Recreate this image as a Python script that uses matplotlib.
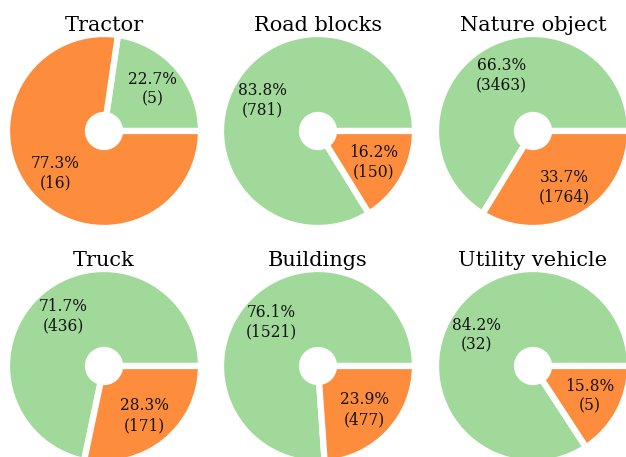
import matplotlib
matplotlib.use("Agg")
import matplotlib.pyplot as plt

titles = ["Tractor", "Road blocks", "Nature object", "Truck", "Buildings", "Utility vehicle"]
pct_green = [22.7, 83.8, 66.3, 71.7, 76.1, 84.2]
pct_orange = [77.3, 16.2, 33.7, 28.3, 23.9, 15.8]
cnt_green = [5, 781, 3463, 436, 1521, 32]
cnt_orange = [16, 150, 1764, 171, 477, 5]

colors = ["#a1d99b", "#fd8d3c"]

W, H = 626, 457
fig = plt.figure(figsize=(W / 100, H / 100), dpi=100)

R = 97          # pie radius in pixels (white edge eats a bit)
lim = 1.12
centers = [(104, 131), (318, 131), (533, 131), (104, 366), (318, 366), (533, 366)]

for i, (cx, cy) in enumerate(centers):
    size = 2 * lim * R
    ax = fig.add_axes([(cx - size / 2) / W, 1 - (cy + size / 2) / H, size / W, size / H])
    vals = [pct_green[i], pct_orange[i]]
    labs = iter([f"{pct_green[i]}%\n({cnt_green[i]})", f"{pct_orange[i]}%\n({cnt_orange[i]})"])
    ax.pie(vals, colors=colors, startangle=0, counterclock=True,
           autopct=lambda p: next(labs), pctdistance=0.66,
           wedgeprops=dict(edgecolor="white", linewidth=4.5),
           textprops=dict(family="DejaVu Serif", fontsize=11.2, color="#111111"))
    ax.add_patch(plt.Circle((0, 0), 0.19, color="white", zorder=5))
    ax.set_xlim(-lim, lim)
    ax.set_ylim(-lim, lim)
    ax.set_aspect("equal")
    ax.axis("off")
    ax.text(0, 1.03, titles[i], ha="center", va="baseline", fontsize=15,
            family="DejaVu Serif", clip_on=False)

fig.savefig("out.png", dpi=100)
